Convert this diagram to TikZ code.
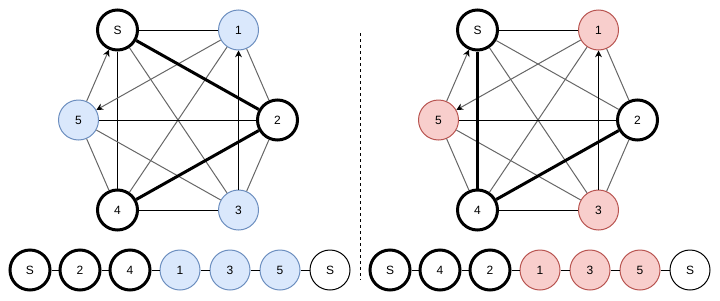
\documentclass[tikz,border=0pt]{standalone}
\usepackage{fontspec}
\setmainfont{Liberation Sans}
\usetikzlibrary{arrows.meta}
\definecolor{bluefill}{HTML}{DAE8FC}
\definecolor{bluedraw}{HTML}{6C8EBF}
\definecolor{redfill}{HTML}{F8CECC}
\definecolor{reddraw}{HTML}{B85450}
\definecolor{edgegray}{HTML}{666666}
\tikzset{
  vtx/.style={circle, minimum size=30pt, inner sep=0pt, font=\fontsize{9}{10}\selectfont},
  thk/.style={vtx, draw=black, fill=white, line width=2.25pt},
  thn/.style={vtx, draw=black, fill=white, line width=0.75pt},
  blu/.style={vtx, draw=bluedraw, fill=bluefill, line width=0.75pt},
  rd/.style={vtx, draw=reddraw, fill=redfill, line width=0.75pt},
  bl/.style={draw=black, line width=0.75pt},
  gr/.style={draw=edgegray, line width=0.75pt},
  hv/.style={draw=black, line width=2.25pt},
  arr/.style={-{Stealth[length=5pt,width=5pt,inset=1.5pt,color=black]}},
  sep/.style={draw=black, line width=0.75pt, dash pattern=on 2.25pt off 2.25pt}
}
\begin{document}
\begin{tikzpicture}[x=0.75pt,y=-0.75pt]
\useasboundingbox (0,0) rectangle (720,300);
% ---------- left graph ----------
\node[thk] (LS) at (117.5,30) {S};
\node[blu] (L1) at (238.5,30) {1};
\node[blu] (L5) at (78.5,120) {5};
\node[thk] (L2) at (277.5,120) {2};
\node[thk] (L4) at (117.5,210) {4};
\node[blu] (L3) at (238.5,210) {3};
\draw[bl] (LS) -- (L1);
\draw[bl] (LS) -- (L4);
\draw[gr] (LS) -- (L3);
\draw[gr] (L1) -- (L2);
\draw[gr] (L1) -- (L4);
\draw[gr] (L5) -- (L4);
\draw[gr] (L5) -- (L3);
\draw[gr] (L3) -- (L2);
\draw[bl] (L5) -- (L2);
\draw[bl] (L4) -- (L3);
\draw[gr,arr] (L5) -- (LS);
\draw[gr,arr] (L1) -- (L5);
\draw[bl,arr] (L3) -- (L1);
\draw[hv] (LS) -- (L2);
\draw[hv] (L4) -- (L2);
% ---------- right graph ----------
\node[thk] (RS) at (477.5,30) {S};
\node[rd] (R1) at (598.5,30) {1};
\node[rd] (R5) at (438.5,120) {5};
\node[thk] (R2) at (637.5,120) {2};
\node[thk] (R4) at (477.5,210) {4};
\node[rd] (R3) at (598.5,210) {3};
\draw[bl] (RS) -- (R1);
\draw[gr] (RS) -- (R2);
\draw[gr] (RS) -- (R3);
\draw[gr] (R1) -- (R2);
\draw[gr] (R1) -- (R4);
\draw[gr] (R5) -- (R4);
\draw[gr] (R5) -- (R3);
\draw[gr] (R3) -- (R2);
\draw[bl] (R5) -- (R2);
\draw[bl] (R4) -- (R3);
\draw[gr,arr] (R5) -- (RS);
\draw[gr,arr] (R1) -- (R5);
\draw[bl,arr] (R3) -- (R1);
\draw[hv] (RS) -- (R4);
\draw[hv] (R4) -- (R2);
% ---------- separator ----------
\coordinate (sepT) at (360.5,33);
\coordinate (sepB) at (360.5,280);
\draw[sep] (sepT) -- (sepB);
% ---------- bottom left sequence ----------
\node[thk] (A1) at (30,270) {S};
\node[thk] (A2) at (80,270) {2};
\node[thk] (A3) at (130,270) {4};
\node[blu] (A4) at (180,270) {1};
\node[blu] (A5) at (230,270) {3};
\node[blu] (A6) at (280,270) {5};
\node[thn] (A7) at (330,270) {S};
\foreach \a/\b in {A1/A2,A2/A3,A3/A4,A4/A5,A5/A6,A6/A7} \draw[bl] (\a) -- (\b);
% ---------- bottom right sequence ----------
\node[thk] (B1) at (390,270) {S};
\node[thk] (B2) at (440,270) {4};
\node[thk] (B3) at (490,270) {2};
\node[rd] (B4) at (540,270) {1};
\node[rd] (B5) at (590,270) {3};
\node[rd] (B6) at (640,270) {5};
\node[thn] (B7) at (690,270) {S};
\foreach \a/\b in {B1/B2,B2/B3,B3/B4,B4/B5,B5/B6,B6/B7} \draw[bl] (\a) -- (\b);
\end{tikzpicture}
\end{document}
